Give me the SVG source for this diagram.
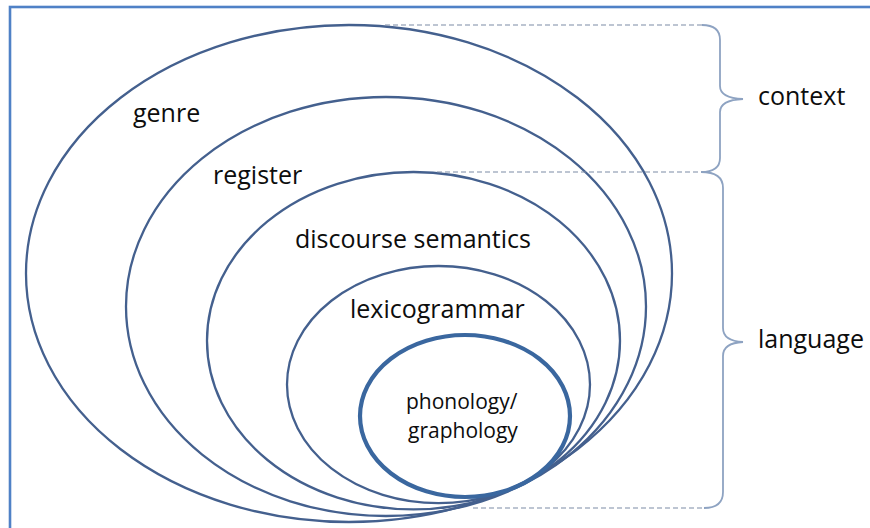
<svg xmlns="http://www.w3.org/2000/svg" width="870" height="528" viewBox="0 0 870 528">
  <style>
    .ring { fill: none; stroke: #44608e; stroke-width: 2.3; }
    .inner { fill: none; stroke: #3a679f; stroke-width: 4.2; }
    .lbl { font-family: "Open Sans", "Noto Sans", "Liberation Sans", sans-serif; font-size: 25px; fill: #0d0d0d; }
    .small { font-size: 21px; }
    .dash { fill: none; stroke: #7d8ca6; stroke-width: 1.2; stroke-dasharray: 5 3; }
    .brace { fill: none; stroke: #8ea3c2; stroke-width: 1.8; }
  </style>
  <rect x="0" y="0" width="870" height="528" fill="#ffffff"/>
  <rect x="10" y="7" width="900" height="600" fill="none" stroke="#4f81c6" stroke-width="2.6"/>

  <g id="genre">
    <ellipse class="ring" cx="349" cy="273.5" rx="323" ry="248.5"/>
    <text class="lbl" x="133" y="122">genre</text>
  </g>
  <g id="register">
    <ellipse class="ring" cx="386" cy="306.5" rx="260" ry="209.5"/>
    <text class="lbl" x="213" y="184">register</text>
  </g>
  <g id="discourse-semantics">
    <ellipse class="ring" cx="413.5" cy="340.7" rx="206.5" ry="168.7"/>
    <text class="lbl" x="295" y="248">discourse semantics</text>
  </g>
  <g id="lexicogrammar">
    <ellipse class="ring" cx="438.5" cy="384.6" rx="151.5" ry="118.6"/>
    <text class="lbl" x="350" y="318">lexicogrammar</text>
  </g>
  <g id="phonology-graphology">
    <ellipse class="inner" cx="465" cy="416" rx="105" ry="81"/>
    <text class="lbl small" x="406" y="409">phonology/</text>
    <text class="lbl small" x="408" y="438">graphology</text>
  </g>

  <g id="connectors">
    <path class="dash" d="M385 25 H703"/>
    <path class="dash" d="M437 172 H701"/>
    <path class="dash" d="M473 508 H705"/>
    <path class="brace" d="M702 25 Q720 25 720 40 V86 Q720 98 743 99 Q720 100 720 112 V158 Q720 172 701 172"/>
    <path class="brace" d="M701 172 Q723 172 723 188 V328 Q723 341 743 342 Q723 343 723 356 V492 Q723 508 704 508"/>
  </g>
  <g id="context">
    <text class="lbl" x="758" y="105">context</text>
  </g>
  <g id="language">
    <text class="lbl" x="758" y="348">language</text>
  </g>
</svg>
